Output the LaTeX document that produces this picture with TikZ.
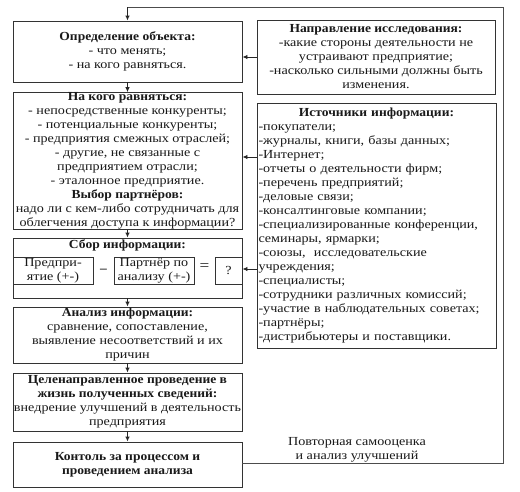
\documentclass[tikz,border=0pt]{standalone}
\usepackage{fontspec}
\setmainfont{Liberation Serif}[FakeStretch=1.15, BoldFeatures={FakeStretch=1.1}]
\usetikzlibrary{arrows.meta,calc}
\begin{document}
\begin{tikzpicture}[x=1pt,y=-1pt,
  every node/.style={font=\fontsize{12.3}{14}\selectfont, text=black!90},
  box/.style={draw=black!80, line width=0.9pt, rectangle, inner sep=0pt, align=center},
  lbox/.style={box, minimum width=229pt},
  arr/.style={draw=black!85, line width=0.9pt, -{Latex[length=5pt,width=4.5pt]}},
  ln/.style={draw=black!70, line width=0.9pt}]
\useasboundingbox (0,0) rectangle (520,491);

\node[lbox, minimum height=61pt] (b1) at (127.5,51.5)
  {\textbf{Определение объекта:}\\- что менять;\\- на кого равняться.};
\node[box, minimum width=238pt, minimum height=74pt] (b2) at (376,57)
  {\textbf{Направление исследования:}\\-какие стороны деятельности не\\устраивают предприятие;\\-насколько сильными должны быть\\изменения.};
\node[lbox, minimum height=134pt] (b3) at (127.5,161)
  {\textbf{На кого равняться:}\\- непосредственные конкуренты;\\- потенциальные конкуренты;\\- предприятия смежных отраслей;\\- другие, не связанные с\\предприятием отрасли;\\- эталонное предприятие.\\\textbf{Выбор партнёров:}\\надо ли с кем-либо сотрудничать для\\облегчения доступа к информации?};
\node[box, minimum width=239pt, minimum height=245pt, text width=236pt, align=left] (b4) at (376.5,225.5)
  {\makebox[236pt][c]{\textbf{Источники информации:}}\\-покупатели;\\-журналы, книги, базы данных;\\-Интернет;\\-отчеты о деятельности фирм;\\-перечень предприятий;\\-деловые связи;\\-консалтинговые компании;\\-специализированные конференции,\\семинары, ярмарки;\\-союзы,\ \ исследовательские\\учреждения;\\-специалисты;\\-сотрудники различных комиссий;\\-участие в наблюдательных советах;\\-партнёры;\\-дистрибьютеры и поставщики.};
\node[lbox, minimum height=60pt] (b5) at (127.5,268) {};
\node (b5t) at (127.5,245) {\textbf{Сбор информации:}};
\node[box, minimum width=80pt, minimum height=27pt] (p1) at (53,270.5) {Предпри-\\ятие (+-)};
\node[box, minimum width=80pt, minimum height=27pt] (p2) at (154,270.5) {Партнёр по\\анализу (+-)};
\node[box, minimum width=27pt, minimum height=27pt] (pq) at (228.5,270.5) {?};
\node (minus) at ($(p1.east)!0.5!(p2.west)$) {\textbf{--}};
\node[font=\fontsize{15}{15}\selectfont] (eq) at ($(p2.east)!0.5!(pq.west)+(0,-3)$) {=};
\node[lbox, minimum height=56pt] (b6) at (127.5,335)
  {\textbf{Анализ информации:}\\сравнение, сопоставление,\\выявление несоответствий и их\\причин};
\node[lbox, minimum height=58pt] (b7) at (127.5,402)
  {\textbf{Целенаправленное проведение в}\\\textbf{жизнь полученных сведений:}\\внедрение улучшений в деятельность\\предприятия};
\node[lbox, minimum height=45pt] (b8) at (127.5,464.5)
  {\textbf{Контоль за процессом и}\\\textbf{проведением анализа}};
\node[align=center] (lab) at (357,450) {Повторная самооценка\\и анализ улучшений};

\draw[arr] (b1) -- (b3);
\draw[arr] (b3) -- (b5);
\draw[arr] (b5) -- (b6);
\draw[arr] (b6) -- (b7);
\draw[arr] (b7) -- (b8);
\draw[arr] (b2.west) -- (b2.west -| b1.east);
\coordinate (s1) at (b4.west |- 0,157);
\coordinate (s2) at (b4.west |- 0,269);
\draw[arr] (s1) -- (s1 -| b3.east);
\draw[arr] (s2) -- (s2 -| b5.east);
\coordinate (c1) at (503,463);
\coordinate (c2) at (503,7);
\coordinate (c3) at (b1.north |- c2);
\draw[ln] (b8.east |- c1) -- (c1) -- (c2) -- (c3);
\draw[arr] (c3) -- (b1.north);
\end{tikzpicture}
\end{document}
